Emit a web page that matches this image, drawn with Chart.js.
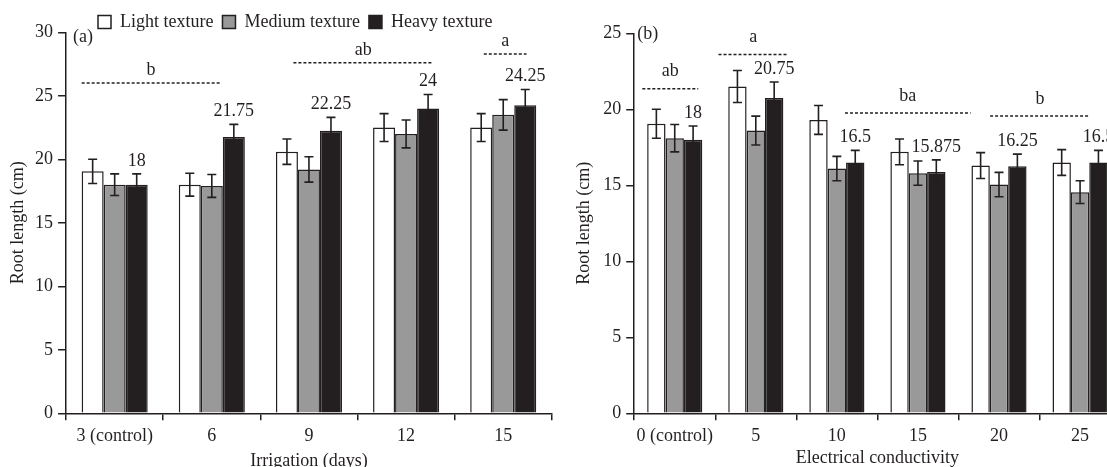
<!DOCTYPE html>
<html>
<head>
<meta charset="utf-8">
<script src="https://cdn.jsdelivr.net/npm/chart.js@4.4.1/dist/chart.umd.min.js"></script>
<style>
html, body { margin: 0; padding: 0; background: #fff; overflow: hidden; width: 1107px; height: 467px; }
#ca { position: absolute; left: 0; top: 0; }
#cb { position: absolute; left: 560px; top: 0; }
</style>
</head>
<body>
<canvas id="ca" width="560" height="480"></canvas>
<canvas id="cb" width="575" height="480"></canvas>
<script>
// ---- data ----
var seriesNames = ['Light texture', 'Medium texture', 'Heavy texture'];

var categoriesA = ['3 (control)', '6', '9', '12', '15'];
var lightA  = [19.05, 18.0, 20.6, 22.5, 22.5];
var mediumA = [18.0, 17.9, 19.2, 22.0, 23.5];
var heavyA  = [18.0, 21.75, 22.25, 24.0, 24.25];
var errLightA  = [0.95, 0.9, 1.0, 1.1, 1.1];
var errMediumA = [0.85, 0.9, 1.0, 1.1, 1.2];
var errHeavyA  = [0.85, 1.0, 1.05, 1.1, 1.25];
var labelsA = ['18', '21.75', '22.25', '24', '24.25'];
var ticksA = [0, 5, 10, 15, 20, 25, 30];

var categoriesB = ['0 (control)', '5', '10', '15', '20', '25'];
var lightB  = [19.05, 21.5, 19.3, 17.2, 16.3, 16.5];
var mediumB = [18.1, 18.6, 16.1, 15.8, 15.05, 14.55];
var heavyB  = [18.0, 20.75, 16.5, 15.875, 16.25, 16.5];
var errLightB  = [0.95, 1.05, 0.95, 0.85, 0.85, 0.85];
var errMediumB = [0.9, 0.95, 0.8, 0.8, 0.8, 0.75];
var errHeavyB  = [0.9, 1.05, 0.8, 0.8, 0.8, 0.8];
var labelsB = ['18', '20.75', '16.5', '15.875', '16.25', '16.5'];
var ticksB = [0, 5, 10, 15, 20, 25];

// significance groups (category index span, level in cm)
var groupsA = [
    { text: 'b',  from: -0.34, to: 1.09, level: 26.0 },
    { text: 'ab', from: 1.84,  to: 3.28, level: 27.6 },
    { text: 'a',  from: 3.80,  to: 4.24, level: 28.3 }
];
var groupsB = [
    { text: 'ab', from: -0.40, to: 0.29, level: 21.36 },
    { text: 'a',  from: 0.54,  to: 1.40, level: 23.6 },
    { text: 'ba', from: 2.10,  to: 3.65, level: 19.76 },
    { text: 'b',  from: 3.89,  to: 5.12, level: 19.56 }
];

// ---- style ----
var INK = '#231f20';
var FILLS = ['#ffffff', '#999999', '#231f20'];
var FONT = '18px "Liberation Serif", "Times New Roman", serif';

var overlay = {
    id: 'overlay',
    afterDatasetsDraw: function (chart, args, opts) {
        var ctx = chart.ctx;
        var ys = chart.scales.y;
        var xs = chart.scales.x;
        ctx.save();
        ctx.strokeStyle = INK;
        ctx.fillStyle = INK;
        ctx.lineWidth = 1.6;

        // error bars
        chart.data.datasets.forEach(function (ds, i) {
            chart.getDatasetMeta(i).data.forEach(function (bar, j) {
                var v = ds.data[j], e = opts.errors[i][j];
                var t = ys.getPixelForValue(v + e), b = ys.getPixelForValue(v - e);
                ctx.beginPath();
                ctx.moveTo(bar.x, t); ctx.lineTo(bar.x, b);
                ctx.moveTo(bar.x - 4.5, t); ctx.lineTo(bar.x + 4.5, t);
                ctx.moveTo(bar.x - 4.5, b); ctx.lineTo(bar.x + 4.5, b);
                ctx.stroke();
            });
        });

        ctx.font = FONT;
        ctx.textAlign = 'center';
        ctx.textBaseline = 'middle';

        // value labels above heavy texture bars
        var last = chart.data.datasets.length - 1;
        var heavy = chart.data.datasets[last].data;
        chart.getDatasetMeta(last).data.forEach(function (bar, j) {
            var t = ys.getPixelForValue(heavy[j] + opts.errors[last][j]);
            ctx.fillText(opts.labels[j], bar.x, t - 13);
        });

        // dashed group lines + letters
        ctx.lineWidth = 1.5;
        ctx.setLineDash([3, 2]);
        opts.groups.forEach(function (g) {
            var x1 = xs.getPixelForValue(g.from), x2 = xs.getPixelForValue(g.to);
            var yy = ys.getPixelForValue(g.level);
            ctx.beginPath();
            ctx.moveTo(x1, yy); ctx.lineTo(x2, yy);
            ctx.stroke();
            ctx.fillText(g.text, (x1 + x2) / 2, yy - opts.letterGap);
        });
        ctx.setLineDash([]);

        // panel tag
        ctx.textAlign = 'left';
        ctx.fillText(opts.tag, chart.chartArea.left + opts.tagDx, opts.tagY);

        // legend
        if (opts.legend) {
            var lx = 98, ly = 22;
            chart.data.datasets.forEach(function (ds) {
                ctx.fillStyle = ds.backgroundColor;
                ctx.fillRect(lx, ly - 6.5, 13, 13);
                ctx.lineWidth = 1.5;
                ctx.strokeRect(lx, ly - 6.5, 13, 13);
                ctx.fillStyle = INK;
                ctx.fillText(ds.label, lx + 22, ly);
                lx += 22 + ctx.measureText(ds.label).width + 9;
            });
        }
        ctx.restore();
    }
};

function makeDatasets(values) {
    return values.map(function (vals, i) {
        return {
            label: seriesNames[i],
            data: vals,
            backgroundColor: FILLS[i],
            borderColor: INK,
            borderWidth: 1.5,
            borderSkipped: 'start',
            categoryPercentage: 0.68,
            barPercentage: 1.0
        };
    });
}

function makeChart(id, cats, values, errors, labels, groups, tickVals, opt) {
    return new Chart(document.getElementById(id), {
        type: 'bar',
        data: { labels: cats, datasets: makeDatasets(values) },
        options: {
            responsive: false,
            devicePixelRatio: 1,
            animation: false,
            layout: { padding: { top: opt.top, right: opt.right, left: 0, bottom: 0 } },
            plugins: {
                legend: { display: false },
                tooltip: { enabled: false },
                overlay: {
                    errors: errors, labels: labels, groups: groups, letterGap: opt.letterGap,
                    tag: opt.tag, tagDx: opt.tagDx, tagY: opt.tagY, legend: opt.legend
                }
            },
            scales: {
                x: {
                    grid: { display: true, drawOnChartArea: false, drawTicks: true, tickLength: 7, color: INK, lineWidth: 1.5 },
                    border: { display: true, color: INK, width: 1.5 },
                    ticks: { color: INK, font: { family: '"Liberation Serif", serif', size: 18 }, padding: 5, maxRotation: 0, autoSkip: false },
                    title: { display: true, text: opt.xTitle, color: INK, font: { family: '"Liberation Serif", serif', size: 18 }, padding: { top: 0, bottom: opt.xTitlePad } },
                    afterFit: function (s) { s.height = 480 - 413.3; }
                },
                y: {
                    min: tickVals[0],
                    max: tickVals[tickVals.length - 1],
                    afterBuildTicks: function (s) { s.ticks = tickVals.map(function (v) { return { value: v }; }); },
                    grid: { display: true, drawOnChartArea: false, drawTicks: true, tickLength: 8, color: INK, lineWidth: 1.5 },
                    border: { display: true, color: INK, width: 1.5 },
                    ticks: { color: INK, font: { family: '"Liberation Serif", serif', size: 18 }, padding: 5 },
                    title: { display: true, text: 'Root length (cm)', color: INK, font: { family: '"Liberation Serif", serif', size: 18 }, padding: { top: opt.yTitlePad, bottom: 0 } },
                    afterFit: function (s) { s.width = opt.yWidth; }
                }
            }
        },
        plugins: [overlay]
    });
}

makeChart('ca', categoriesA, [lightA, mediumA, heavyA], [errLightA, errMediumA, errHeavyA], labelsA, groupsA, ticksA, {
    top: 32.3, right: 8.2, yWidth: 66.1, yTitlePad: 7.4, xTitle: 'Irrigation (days)', xTitlePad: 8.4,
    letterGap: 13, tag: '(a)', tagDx: 7, tagY: 37, legend: true
});

makeChart('cb', categoriesB, [lightB, mediumB, heavyB], [errLightB, errMediumB, errHeavyB], labelsB, groupsB, ticksB, {
    top: 33.3, right: 14.4, yWidth: 74.2, yTitlePad: 13.9, xTitle: 'Electrical conductivity', xTitlePad: 11.4,
    letterGap: 17, tag: '(b)', tagDx: 3, tagY: 34, legend: false
});
</script>
</body>
</html>
